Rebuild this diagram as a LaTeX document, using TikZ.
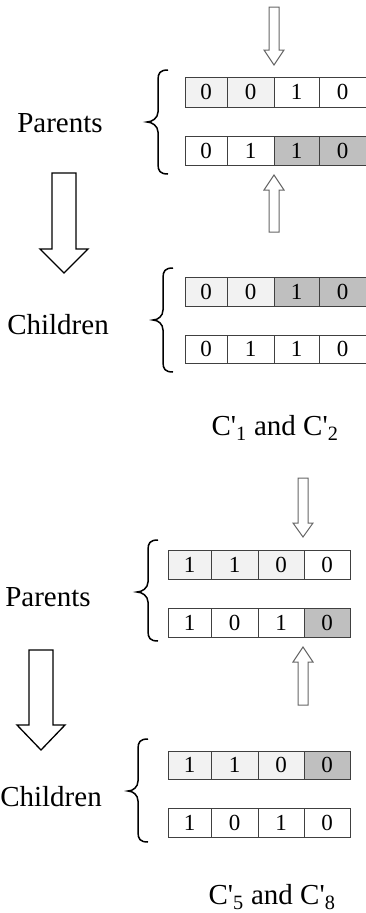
\documentclass[tikz,border=0pt]{standalone}
\usepackage{fontspec}
\setmainfont{Liberation Serif}
\definecolor{lightc}{HTML}{F2F2F2}
\definecolor{darkc}{HTML}{BFBFBF}
\definecolor{edgec}{HTML}{404040}
\definecolor{arrc}{HTML}{666666}
\tikzset{
  cellbox/.style={draw=edgec,line width=1pt,inner sep=0pt,font=\fontsize{23}{23}\selectfont},
  lbl/.style={font=\fontsize{29}{29}\selectfont,inner sep=0pt},
  smallarrow/.style={draw=arrc,fill=white,line width=1pt,line join=miter},
  bigarrow/.style={draw=black,fill=white,line width=1.3pt,line join=miter},
  bracestyle/.style={draw=black,line width=1.5pt}
}
\newcommand\gcell[7]{\node[cellbox,fill=#6,minimum width={(#3-#2)*1pt},minimum height={(#5-#4)*1pt}] (#1) at ({(#2+#3)/2},{(#4+#5)/2}) {#7};}
% blockarrow: style, cx, base y, head y, tip y, shaft half, head half
\newcommand\blockarrow[7]{\draw[#1] ({#2-#6},#3) -- ({#2+#6},#3) -- ({#2+#6},#4) -- ({#2+#7},#4) -- (#2,#5) -- ({#2-#7},#4) -- ({#2-#6},#4) -- cycle;}
% curly brace: x tip, x bar, x end, y top, y tip, y bottom
\newcommand\curly[6]{\draw[bracestyle] (#3,#4) .. controls ({#2+2},#4) and (#2,{#4+3}) .. (#2,{#4+10}) -- (#2,{#5-10}) .. controls (#2,{#5-4}) and ({#1+5},#5) .. (#1,#5) .. controls ({#1+5},#5) and (#2,{#5+4}) .. (#2,{#5+10}) -- (#2,{#6-10}) .. controls (#2,{#6-3}) and ({#2+2},#6) .. (#3,#6);}
\begin{document}
\begin{tikzpicture}[x=1pt,y=-1pt]
\useasboundingbox (0,0) rectangle (365,913);
% ---------- panel 1 ----------
\blockarrow{smallarrow}{274}{7}{50}{65}{5}{10}
\gcell{pa1}{185}{227}{77}{107}{lightc}{0}
\gcell{pa2}{227}{274}{77}{107}{lightc}{0}
\gcell{pa3}{274}{319}{77}{107}{white}{1}
\gcell{pa4}{319}{366}{77}{107}{white}{0}
\gcell{pb1}{185}{227}{136}{165}{white}{0}
\gcell{pb2}{227}{274}{136}{165}{white}{1}
\gcell{pb3}{274}{319}{136}{165}{darkc}{1}
\gcell{pb4}{319}{366}{136}{165}{darkc}{0}
\blockarrow{smallarrow}{274}{232}{190}{175}{5}{10}
\curly{147}{158}{168}{70}{122}{174}
\node[lbl] (par1) at (60,123) {Parents};
\blockarrow{bigarrow}{64}{173}{249}{273}{12}{24}
\gcell{ca1}{185}{227}{277}{306}{lightc}{0}
\gcell{ca2}{227}{274}{277}{306}{lightc}{0}
\gcell{ca3}{274}{319}{277}{306}{darkc}{1}
\gcell{ca4}{319}{366}{277}{306}{darkc}{0}
\gcell{cb1}{185}{227}{335}{363}{white}{0}
\gcell{cb2}{227}{274}{335}{363}{white}{1}
\gcell{cb3}{274}{319}{335}{363}{white}{1}
\gcell{cb4}{319}{366}{335}{363}{white}{0}
\curly{153}{163}{173}{268}{320}{372}
\node[lbl] (chi1) at (58,325) {Children};
\node[lbl] (cap1) at (275,428) {C\textquotesingle\textsubscript{1} and C\textquotesingle\textsubscript{2}};
% ---------- panel 2 ----------
\blockarrow{smallarrow}{303}{478}{523}{537}{5}{10}
\gcell{qa1}{168}{211}{550}{579}{lightc}{1}
\gcell{qa2}{211}{258}{550}{579}{lightc}{1}
\gcell{qa3}{258}{304}{550}{579}{lightc}{0}
\gcell{qa4}{304}{350}{550}{579}{white}{0}
\gcell{qb1}{168}{211}{608}{637}{white}{1}
\gcell{qb2}{211}{258}{608}{637}{white}{0}
\gcell{qb3}{258}{304}{608}{637}{white}{1}
\gcell{qb4}{304}{350}{608}{637}{darkc}{0}
\blockarrow{smallarrow}{303}{705}{662}{647}{5}{10}
\curly{137}{148}{158}{540}{592}{641}
\node[lbl] (par2) at (48,597) {Parents};
\blockarrow{bigarrow}{41}{650}{725}{750}{12}{24}
\gcell{da1}{168}{211}{751}{779}{lightc}{1}
\gcell{da2}{211}{258}{751}{779}{lightc}{1}
\gcell{da3}{258}{304}{751}{779}{lightc}{0}
\gcell{da4}{304}{350}{751}{779}{darkc}{0}
\gcell{db1}{168}{211}{808}{837}{white}{1}
\gcell{db2}{211}{258}{808}{837}{white}{0}
\gcell{db3}{258}{304}{808}{837}{white}{1}
\gcell{db4}{304}{350}{808}{837}{white}{0}
\curly{128}{138}{148}{739}{791}{842}
\node[lbl] (chi2) at (51,797) {Children};
\node[lbl] (cap2) at (272,897) {C\textquotesingle\textsubscript{5} and C\textquotesingle\textsubscript{8}};
\end{tikzpicture}
\end{document}
